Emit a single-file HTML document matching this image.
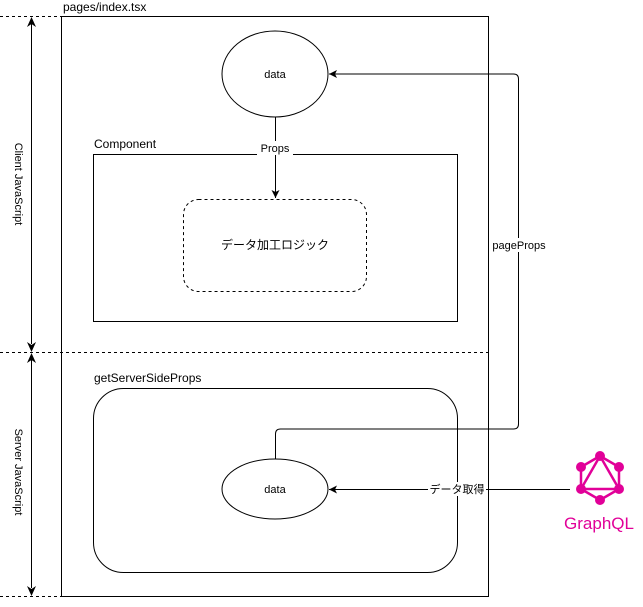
<!DOCTYPE html>
<html><head><meta charset="utf-8"><style>
html,body{margin:0;padding:0;background:#fff;}
svg{display:block;}
text{font-family:"Liberation Sans","Noto Sans CJK JP",sans-serif;}
</style></head><body>
<svg width="643" height="607" viewBox="0 0 643 607" xmlns="http://www.w3.org/2000/svg">
<defs>
<marker id="ar" markerWidth="10" markerHeight="10" refX="9" refY="5" orient="auto" markerUnits="userSpaceOnUse">
<path d="M1,1 L9,5 L1,9 L3,5 Z" fill="#000"/>
</marker>
</defs>
<!-- dashed separators -->
<g stroke="#000" stroke-dasharray="3,3" fill="none">
<line x1="0" y1="16.5" x2="61" y2="16.5"/>
<line x1="0" y1="352.5" x2="489" y2="352.5"/>
<line x1="0" y1="596.5" x2="61" y2="596.5"/>
</g>
<!-- vertical arrows -->
<line x1="31.5" y1="24" x2="31.5" y2="344" stroke="#000"/>
<path d="M31.5,17 L27,27 L31.5,24 L36,27 Z"/>
<path d="M31.5,352 L27,342 L31.5,345 L36,342 Z"/>
<line x1="31.5" y1="360" x2="31.5" y2="588" stroke="#000"/>
<path d="M31.5,353 L27,363 L31.5,360 L36,363 Z"/>
<path d="M31.5,596 L27,586 L31.5,589 L36,586 Z"/>
<text x="18" y="184" font-size="11" text-anchor="middle" dominant-baseline="middle" transform="rotate(90 18 184)">Client JavaScript</text>
<text x="18" y="472" font-size="11" text-anchor="middle" dominant-baseline="middle" transform="rotate(90 18 472)">Server JavaScript</text>
<!-- outer box -->
<rect x="61.5" y="16.5" width="427" height="580" fill="none" stroke="#000"/>
<text x="63" y="11" font-size="12">pages/index.tsx</text>
<!-- component -->
<rect x="93.5" y="154.5" width="364" height="167" fill="none" stroke="#000"/>
<text x="94" y="148" font-size="12">Component</text>
<!-- top data -->
<ellipse cx="275" cy="74" rx="53" ry="43" fill="#fff" stroke="#000"/>
<text x="275" y="78" font-size="11" text-anchor="middle">data</text>
<line x1="275.5" y1="117" x2="275.5" y2="198" stroke="#000" marker-end="url(#ar)"/>
<rect x="257" y="141" width="36" height="14" fill="#fff"/>
<text x="275" y="152" font-size="11" text-anchor="middle">Props</text>
<rect x="183.5" y="199.5" width="183" height="92" rx="15" fill="none" stroke="#000" stroke-dasharray="3,3"/>
<text x="275" y="249" font-size="12" text-anchor="middle">データ加工ロジック</text>
<!-- server -->
<rect x="93.5" y="388.5" width="364" height="184" rx="30" fill="none" stroke="#000"/>
<text x="94" y="382" font-size="12">getServerSideProps</text>
<ellipse cx="275" cy="489" rx="53" ry="30" fill="#fff" stroke="#000"/>
<text x="275" y="493" font-size="11" text-anchor="middle">data</text>
<!-- pageProps connector -->
<path d="M275.5,459 L275.5,434 Q275.5,429 280.5,429 L513.5,429 Q518.5,429 518.5,424 L518.5,79 Q518.5,74 513.5,74 L329,74" fill="none" stroke="#000" marker-end="url(#ar)"/>
<rect x="492" y="238" width="54" height="14" fill="#fff"/>
<text x="519" y="249" font-size="11" text-anchor="middle">pageProps</text>
<!-- data fetch -->
<line x1="570" y1="489.5" x2="329" y2="489.5" stroke="#000" marker-end="url(#ar)"/>
<rect x="428" y="482" width="58" height="14" fill="#fff"/>
<text x="457" y="493" font-size="11" text-anchor="middle">データ取得</text>
<!-- GraphQL logo -->
<g stroke="#E10098" stroke-width="2.5" fill="none">
<polygon points="600,456 619,467 619,489 600,500 581,489 581,467"/>
<polygon points="600,456 619,489 581,489"/>
</g>
<g fill="#E10098">
<circle cx="600" cy="456" r="5"/><circle cx="619" cy="467" r="5"/><circle cx="619" cy="489" r="5"/>
<circle cx="600" cy="500" r="5"/><circle cx="581" cy="489" r="5"/><circle cx="581" cy="467" r="5"/>
</g>
<text x="599" y="529" font-size="17" fill="#E10098" text-anchor="middle">GraphQL</text>
</svg>
</body></html>
